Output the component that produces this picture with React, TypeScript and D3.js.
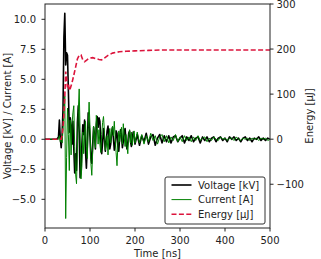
import * as d3 from 'd3';

// time axis (ns) shared by voltage and current traces
const time = [
  0, 10, 20, 26, 28,
  30, 32, 34, 36, 38, 40, 42, 44, 46, 48,
  50, 52, 54, 56, 58, 60, 62, 64, 66, 68,
  70, 72, 74, 76, 78, 80, 82, 84, 86, 88,
  90, 92, 94, 96, 98, 100, 102, 104, 106, 108,
  110, 112, 114, 116, 118, 120, 122, 124, 126, 128,
  130, 132, 134, 136, 138, 140, 142, 144, 146, 148,
  150, 152, 154, 156, 158, 160, 162, 164, 166, 168,
  170, 172, 174, 176, 178, 180, 182, 184, 186, 188,
  190, 192, 194, 196, 198, 200,
  205, 210, 215, 220, 225, 230, 235, 240, 245, 250,
  255, 260, 265, 270, 275, 280, 285, 290, 295, 300,
  305, 310, 315, 320, 325, 330, 335, 340, 345, 350,
  355, 360, 365, 370, 375, 380, 385, 390, 395, 400,
  405, 410, 415, 420, 425, 430, 435, 440, 445, 450,
  455, 460, 465, 470, 475, 480, 485, 490, 495, 500,
];

// kV
const voltage = [
  0, 0, 0, 0, 0.1,
  0.2, 1.6, 0.1, -0.7, 0.4, 2.5, 8.5, 10.5, 6.2, 7.2,
  7.0, 4.0, 0.6, 1.8, 1.2, -0.4, 1.5, -0.8, -2.8, -1.2,
  -2.6, 1.4, 2.8, 0.6, -3.2, -2.6, -0.4, 1.2, 0.4, 1.6,
  -1.0, -2.4, -0.6, 2.2, 1.4, 0.2, -1.6, -2.0, -0.4, 1.0,
  0.4, -0.8, 1.2, 1.9, 1.0, 1.8, 1.5, -0.2, -1.2, -0.3,
  0.9, 0.2, -1.0, -0.3, 0.7, 1.1, 0.2, -0.8, -0.4, 0.6,
  1.0, 0.1, -0.9, -0.5, 0.7, 0.5, -0.6, -1.0, 0.2, 0.8,
  0.3, -0.7, -0.2, 0.6, 0.9, -0.1, -0.8, -0.3, 0.5, 0.7,
  -0.2, -0.6, 0.1, 0.6, 0.3, -0.4,
  0.4, -0.5, 0.3, -0.2, 0.5, -0.4, 0.2, 0.4, -0.5, 0.1,
  0.4, -0.3, 0.3, -0.2, 0.3, -0.3, 0.2, 0.3, -0.2, 0.1,
  0.3, -0.3, 0.2, -0.1, 0.3, -0.2, 0.1, 0.2, -0.3, 0.2,
  -0.1, 0.2, -0.2, 0.1, 0.2, -0.2, 0.1, 0.2, -0.1, 0.1,
  -0.2, 0.2, 0.0, 0.2, -0.1, 0.1, -0.2, 0.1, 0.2, -0.1,
  0.1, -0.2, 0.1, 0.0, 0.2, -0.1, 0.1, -0.1, 0.1, 0.0,
];

// A
const current = [
  0, 0, 0, 0, 0,
  0.0, 0.3, -0.2, 0.2, -0.3, 0.8, 2.2, 3.6, -6.6, -1.5,
  2.6, 0.4, -2.6, 1.6, -1.3, 1.2, 2.2, 2.8, -0.6, -2.9,
  -3.7, -0.8, 2.4, 4.2, 0.6, -3.3, -2.2, 0.6, -1.2, 0.3,
  1.5, -0.6, -1.6, 1.0, 3.1, 1.0, -2.0, -3.0, -1.0, 1.1,
  0.2, -0.7, 2.0, 1.2, -0.4, 0.8, -0.4, -1.1, 0.4, 1.4,
  1.9, 0.7, -0.9, -0.4, 0.3, -1.3, 0.2, 0.9, -0.3, 0.6,
  1.1, 0.3, 1.5, 0.1, -1.1, -2.2, -0.4, 0.7, -0.2, 0.5,
  1.0, -0.4, 1.3, 0.2, -0.6, 0.4, -0.5, -1.2, 0.3, 0.8,
  -0.3, 0.6, -0.5, 0.2, 0.7, -0.3,
  0.6, -0.3, 0.4, -0.4, 0.3, -0.2, 0.5, -0.1, 0.3, -0.4,
  0.2, 0.4, -0.2, 0.3, -0.3, 0.2, -0.1, 0.4, -0.2, 0.2,
  -0.2, 0.3, -0.1, 0.2, -0.2, 0.2, -0.1, 0.3, -0.1, 0.1,
  0.2, -0.2, 0.1, -0.1, 0.2, 0.0, -0.1, 0.2, 0.0, 0.1,
  -0.1, 0.1, 0.1, -0.1, 0.2, 0.0, -0.1, 0.1, 0.0, 0.1,
  -0.1, 0.1, 0.0, 0.1, -0.1, 0.1, 0.0, 0.1, -0.1, 0.0,
];

// energy (µJ) on the right axis
const energyTime = [
  0, 36, 38, 40, 42, 44, 46, 48, 50, 52,
  54, 56, 60, 64, 68, 72, 76, 80, 84, 88,
  92, 96, 100, 106, 112, 120, 126, 132, 140, 150,
  165, 180, 200, 230, 260, 500,
];
const energy = [
  0, 0, 8, 25, 55, 95, 150, 135, 115, 122,
  108, 112, 125, 142, 160, 178, 186, 187, 176, 172,
  175, 178, 180, 181, 179, 177, 176, 180, 186, 191,
  194, 195, 196, 197, 198, 198,
];

const xTicks = [0, 100, 200, 300, 400, 500];
const leftTicks = [-5, -2.5, 0, 2.5, 5, 7.5, 10];
const rightTicks = [-100, 0, 100, 200, 300];

const W = 321;
const H = 259;
const margin = { top: 4, right: 51, bottom: 31, left: 45 };
const FONT = 'DejaVu Sans, sans-serif';
const RED = '#dc143c';
const GREEN = '#008000';

const fmtMinus = (s: string) => s.replace('-', '\u2212');

export default function App(): JSX.Element {
  const x0 = margin.left;
  const x1 = W - margin.right;
  const y0 = margin.top;
  const y1 = H - margin.bottom;

  const x = d3.scaleLinear().domain([0, 500]).range([x0, x1]);
  const yL = d3.scaleLinear().domain([-7.39, 11.275]).range([y1, y0]);
  const yR = d3.scaleLinear().domain([-197.1, 300]).range([y1, y0]);

  const idx = d3.range(time.length);
  const vLine = d3.line<number>().x(i => x(time[i])).y(i => yL(voltage[i]));
  const iLine = d3.line<number>().x(i => x(time[i])).y(i => yL(current[i]));
  const eLine = d3.line<number>().x(i => x(energyTime[i])).y(i => yR(energy[i]));

  const legendItems = [
    { label: 'Voltage [kV]', color: 'black', width: 1.6, dash: undefined },
    { label: 'Current [A]', color: GREEN, width: 1, dash: undefined },
    { label: 'Energy [\u00b5J]', color: RED, width: 1.6, dash: '5,2.4' },
  ];

  return (
    <div style={{ position: 'fixed', left: 0, top: 0 }}>
      <svg width={W} height={H} style={{ display: 'block', fontFamily: FONT }}>
        <rect width={W} height={H} fill="white" />
        <defs>
          <clipPath id="plot-clip">
            <rect x={x0} y={y0} width={x1 - x0} height={y1 - y0} />
          </clipPath>
        </defs>

        <g clipPath="url(#plot-clip)" fill="none">
          <path d={vLine(idx) || ''} stroke="black" strokeWidth={1.6} strokeLinejoin="round" />
          <path d={iLine(idx) || ''} stroke={GREEN} strokeWidth={1} strokeLinejoin="round" />
          <path
            d={eLine(d3.range(energyTime.length)) || ''}
            stroke={RED}
            strokeWidth={1.6}
            strokeDasharray="5,2.4"
          />
        </g>

        {/* frame */}
        <rect x={x0} y={y0} width={x1 - x0} height={y1 - y0} fill="none" stroke="#222" strokeWidth={1} />

        {/* x axis */}
        {xTicks.map(t => (
          <g key={t} transform={`translate(${x(t)},${y1})`}>
            <line y2={3.5} stroke="#222" />
            <text y={16.3} textAnchor="middle" fontSize={10} fill="#222">{t}</text>
          </g>
        ))}
        <text x={(x0 + x1) / 2} y={257} textAnchor="middle" fontSize={10} fill="#222">Time [ns]</text>

        {/* left axis */}
        {leftTicks.map(t => (
          <g key={t} transform={`translate(${x0},${yL(t)})`}>
            <line x2={-3.5} stroke="#222" />
            <text x={-9} dy="0.36em" textAnchor="end" fontSize={10} fill="#222">{fmtMinus(t.toFixed(1))}</text>
          </g>
        ))}
        <text
          transform={`translate(11,${(y0 + y1) / 2}) rotate(-90)`}
          textAnchor="middle"
          fontSize={10}
          fill="#222"
        >
          Voltage [kV] / Current [A]
        </text>

        {/* right axis */}
        {rightTicks.map(t => (
          <g key={t} transform={`translate(${x1},${yR(t)})`}>
            <line x2={3.5} stroke="#222" />
            <text x={6.5} dy="0.36em" textAnchor="start" fontSize={10} fill="#222">{fmtMinus(String(t))}</text>
          </g>
        ))}
        <text
          transform={`translate(313,${(y0 + y1) / 2}) rotate(-90)`}
          textAnchor="middle"
          fontSize={10}
          fill="#222"
        >
          Energy [µJ]
        </text>

        {/* legend */}
        <g transform="translate(165,177)">
          <rect width={100} height={47} rx={2} fill="white" fillOpacity={0.85} stroke="#333" strokeWidth={1} />
          {legendItems.map((d, i) => (
            <g key={d.label} transform={`translate(0,${8 + i * 14.6})`}>
              <line x1={6.5} x2={26.5} stroke={d.color} strokeWidth={d.width} strokeDasharray={d.dash} />
              <text x={33} dy="0.36em" fontSize={10} fill="#222">{d.label}</text>
            </g>
          ))}
        </g>
      </svg>
    </div>
  );
}
